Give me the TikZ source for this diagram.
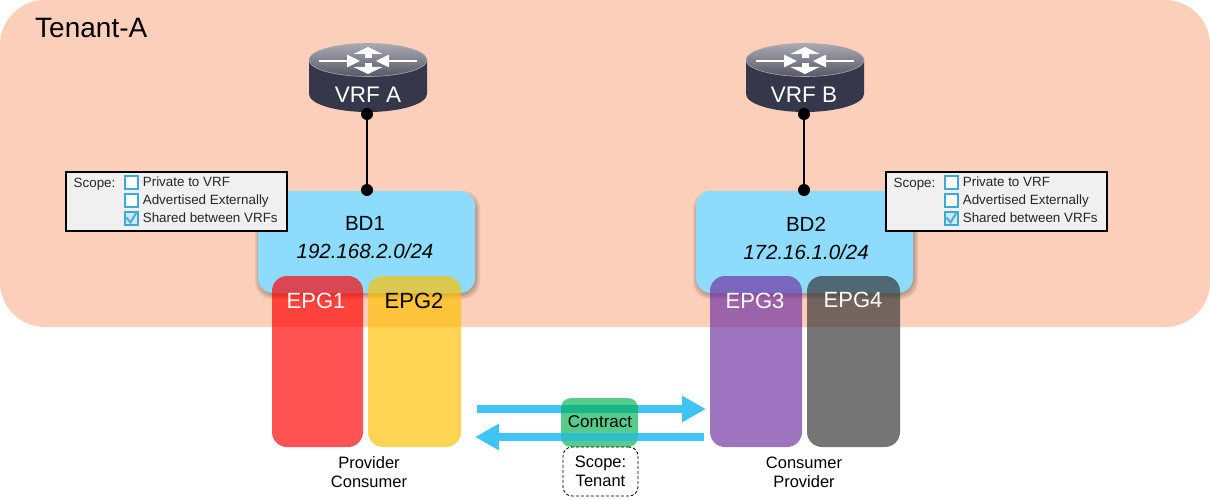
\documentclass[tikz,border=0pt]{standalone}
\usepackage{fontspec}
\setmainfont{Liberation Sans}
\usetikzlibrary{arrows.meta,positioning,calc}
\definecolor{tenantfill}{HTML}{FBCFBA}
\definecolor{bdfill}{HTML}{8DDCFE}
\definecolor{flowblue}{HTML}{40C4F5}
\definecolor{tickblue}{HTML}{3FA9D6}
\definecolor{vrfdark}{HTML}{34384A}
\definecolor{vrfmid}{HTML}{5C6183}
\definecolor{vrftoplight}{HTML}{A9AAB4}
\definecolor{vrftopdark}{HTML}{565966}
\tikzset{
  tenantbox/.style={fill=tenantfill, rounded corners=45pt, minimum width=1210pt,
    minimum height=327pt, inner sep=0pt, outer sep=0pt},
  bdbox/.style={fill=bdfill, rounded corners=15pt, minimum width=217pt, minimum height=102pt,
    inner sep=0pt},
  bdshade/.style={fill=black, fill opacity=.06, rounded corners=17pt, inner sep=0pt},
  epgbox/.style={rounded corners=15pt, minimum height=171pt, inner sep=0pt, fill opacity=.68},
  epglbl/.style={font=\fontsize{22}{25}\selectfont},
  bdlbl/.style={align=center, font=\fontsize{20.5}{28}\selectfont, inner sep=0pt},
  capt/.style={align=center, font=\fontsize{16.5}{19}\selectfont, inner sep=0pt},
  vrflbl/.style={text=white, font=\fontsize{22.5}{25}\selectfont, inner sep=0pt},
  wire/.style={black, line width=2pt},
  wiredot/.style={circle, fill=black, minimum size=12pt, inner sep=0pt},
  flow/.style={flowblue, line width=8pt, -{Triangle[length=24pt, width=25pt]}},
  contractbox/.style={rounded corners=10pt, minimum width=77pt, minimum height=49pt,
    inner sep=0pt, outer sep=0pt},
  scopetag/.style={draw=black, densely dashed, line width=.8pt, rounded corners=9pt, minimum width=75pt,
    minimum height=49pt, align=center, inner sep=0pt, font=\fontsize{16.5}{19}\selectfont},
  tickbox/.style={draw=tickblue, line width=1.8pt, fill=white, minimum size=13.5pt, inner sep=0pt},
  scopetxt/.style={text=black!85, anchor=west, inner sep=0pt, text height=10pt, text depth=3pt,
    font=\fontsize{13.4}{15}\selectfont},
  % router icon, origin at the centre of the top face
  vrficon/.pic={
    \path[left color=vrfdark, middle color=vrfmid, right color=vrfdark]
      (-59,0) -- (-59,34) arc[start angle=180, end angle=0, x radius=59, y radius=18] -- (59,0) -- cycle;
    \path[top color=vrftoplight, bottom color=vrftopdark, draw=black!35, line width=.6pt]
      (0,0) ellipse[x radius=59, y radius=16.5];
    \draw[white, line width=2.5pt, -{Triangle[length=13pt, width=12pt]}] (-49,1) -- (-8,1);
    \draw[white, line width=2.5pt, -{Triangle[length=13pt, width=12pt]}] (49,1) -- (8,1);
    \draw[white, line width=7pt, -{Triangle[length=7pt, width=29pt]}] (0,-2) -- (0,-13);
    \draw[white, line width=7pt, -{Triangle[length=7pt, width=29pt]}] (0,3) -- (0,14);
  },
  % scope legend, origin at the top left corner
  scopepanel/.pic={
    \node[draw=black, line width=2pt, fill=black!6, minimum width=221pt, minimum height=59pt,
      inner sep=0pt, outer sep=0pt, anchor=north west] (frame) at (0,0) {};
    \node[scopetxt] (head) at (8,12) {Scope:};
    \node[tickbox] (boxa) at (66,11) {};
    \node[tickbox] (boxb) at (66,29) {};
    \node[tickbox, fill=tickblue!25] (boxc) at (66,47) {};
    \node[scopetxt, right=3.5pt of boxa] {Private to VRF};
    \node[scopetxt, right=3.5pt of boxb] {Advertised Externally};
    \node[scopetxt, right=3.5pt of boxc] {Shared between VRFs};
    \draw[tickblue!90!white, line width=2.2pt] (61,46) -- (65,51) -- (71,41);
  }
}

\begin{document}
\begin{tikzpicture}[x=1pt, y=-1pt]
  \useasboundingbox (0,0) rectangle (1210,500);

  % tenant
  \node[tenantbox] (tenant) at (605,163.5) {};
  \node[anchor=west, inner sep=0pt, font=\fontsize{28}{32}\selectfont] (tenantlbl) at (35,28) {Tenant-A};

  % bridge domains
  \foreach \bdx in {367.5,805.5}
    \foreach \spread in {0,2,4,6,8}
      \node[bdshade, minimum width=217pt+\spread pt, minimum height=100pt+\spread pt] at (\bdx,245) {};
  \node[bdbox] (bd1) at (366.5,242) {};
  \node[bdbox] (bd2) at (804.5,242) {};
  \node[bdlbl] (bd1lbl) at (365,238) {BD1\\\textit{192.168.2.0/24}};
  \node[bdlbl] (bd2lbl) at (806,238) {BD2\\\textit{172.16.1.0/24}};

  % routers
  \pic at (368,60) {vrficon};
  \pic at (805,60) {vrficon};
  \node[vrflbl] (vrfa) at (368,95) {VRF A};
  \node[vrflbl] (vrfb) at (804,95) {VRF B};
  \node[wiredot] (vrfadot) at (367,114) {};
  \node[wiredot] (vrfbdot) at (804,114) {};
  \node[wiredot] (bd1dot) at (367,190) {};
  \node[wiredot] (bd2dot) at (804,190) {};
  \draw[wire] (vrfadot) -- (bd1dot);
  \draw[wire] (vrfbdot) -- (bd2dot);

  % scope legends
  \pic (scopea) at (65.5,171.5) {scopepanel};
  \pic (scopeb) at (885.5,171.5) {scopepanel};

  % endpoint groups
  \node[epgbox, fill=red, minimum width=91pt] (epg1) at (317.5,361.5) {};
  \node[epgbox, fill={rgb,255:red,255;green,192;blue,0}, minimum width=93pt] (epg2) at (414.5,361.5) {};
  \node[epgbox, fill={rgb,255:red,112;green,48;blue,160}, minimum width=92pt] (epg3) at (756,361.5) {};
  \node[epgbox, fill=black!80, minimum width=93pt] (epg4) at (853.5,361.5) {};
  \node[epglbl, text=white] (epg1lbl) at (316,301) {EPG1};
  \node[epglbl] (epg2lbl) at (414,301) {EPG2};
  \node[epglbl, text=white] (epg3lbl) at (755,301) {EPG3};
  \node[epglbl, text=white] (epg4lbl) at (853,300) {EPG4};
  \node[capt] (leftcapt) at (369,472) {Provider\\Consumer};
  \node[capt] (rightcapt) at (804,472) {Consumer\\Provider};

  % contract
  \coordinate (fwdstart) at (477,409);
  \coordinate (fwdend) at (706,409);
  \coordinate (backstart) at (704,437);
  \coordinate (backend) at (475,437);
  \draw[flow] (fwdstart) -- (fwdend);
  \draw[flow] (backstart) -- (backend);
  \node[contractbox, fill={rgb,255:red,0;green,176;blue,80}, fill opacity=.66] (contract) at (599.5,422.5) {};
  \begin{scope}
    \clip (contract.north west) rectangle (contract.south east);
    \draw[flowblue, line width=8pt, opacity=.6] (backstart) -- (backend);
  \end{scope}
  \node[inner sep=0pt, font=\fontsize{17}{20}\selectfont] (contractlbl) at (600,422) {Contract};
  \node[scopetag] (tag) at (600.5,471.5) {Scope:\\Tenant};
\end{tikzpicture}
\end{document}
